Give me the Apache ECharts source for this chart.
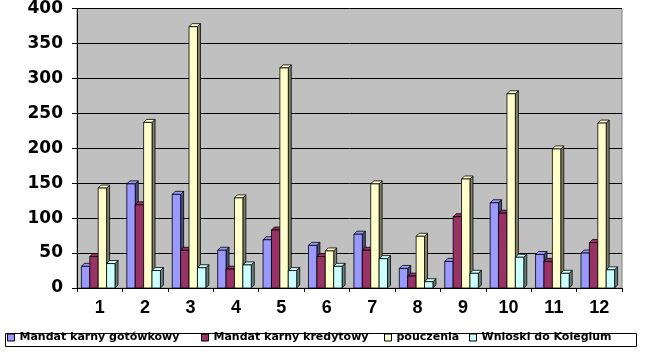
<!DOCTYPE html>
<html>
<head>
<meta charset="utf-8">
<script src="https://cdn.jsdelivr.net/npm/echarts@6/dist/echarts.min.js"></script>
<style>html,body{margin:0;padding:0;background:#fff}#c{width:655px;height:360px}</style>
</head>
<body>
<div id="c"></div>
<script>
const categories = ['1','2','3','4','5','6','7','8','9','10','11','12'];
const seriesNames = ['Mandat karny gotówkowy','Mandat karny kredytowy','pouczenia','Wnioski do Kolegium'];
const gotowkowy = [31,149,134,54,69,61,77,28,38,122,48,50];
const kredytowy = [45,119,54,27,83,45,54,17,102,107,38,65];
const pouczenia = [143,237,374,129,315,53,149,74,156,278,199,236];
const wnioski = [35,25,29,33,25,31,42,9,21,44,21,26];
const yTicks = {min:0, max:400, interval:50};

const seriesData = [gotowkowy, kredytowy, pouczenia, wnioski];
const frontColors = ['#9999FF','#993366','#FFFFCC','#CCFFFF'];
const sideColors = ['#4D4D80','#4D1A33','#808066','#668080'];
const legendLefts = [7, 201, 384, 469];

const BW = 8.4, D = 3;
function makeRender(s){
  return function(params, api){
    const cat = api.value(0), val = api.value(1);
    const p0 = api.coord([cat, 0]);
    const p1 = api.coord([cat, val]);
    const x = p0[0] - 2*BW - 1.5 + s*BW;
    const yt = p1[1], yb = p0[1];
    const st = {stroke:'#000', lineWidth:0.8};
    return {type:'group', children:[
      {type:'polygon', shape:{points:[[x+BW,yt],[x+BW+D,yt-D],[x+BW+D,yb-D],[x+BW,yb]]}, style:Object.assign({fill:sideColors[s]}, st)},
      {type:'polygon', shape:{points:[[x,yt],[x+D,yt-D],[x+BW+D,yt-D],[x+BW,yt]]}, style:Object.assign({fill:frontColors[s]}, st)},
      {type:'rect', shape:{x:x, y:yt, width:BW, height:yb-yt}, style:Object.assign({fill:frontColors[s]}, st)}
    ]};
  };
}

const series = seriesData.map((arr, s) => ({
  type:'custom',
  name: seriesNames[s],
  renderItem: makeRender(s),
  itemStyle:{color: frontColors[s]},
  encode:{x:0, y:1},
  data: arr.map((v,i)=>[i,v]),
  z: 2 + s
}));

const legends = seriesNames.map((n, s) => ({
  data:[n], left: legendLefts[s], top: 331, padding: 0,
  itemWidth: 7, itemHeight: 7, icon: 'rect',
  itemStyle:{borderColor:'#000', borderWidth:1},
  textStyle:{fontFamily:'DejaVu Sans', fontWeight:'bold', fontSize:11, color:'#000', lineHeight:13},
  selectedMode:false
}));

const chart = echarts.init(document.getElementById('c'), null, {renderer:'canvas'});
chart.setOption({
  animation:false,
  backgroundColor:'#fff',
  grid:{left:77, right:33, top:5, bottom:72, show:true, backgroundColor:'#C0C0C0', borderColor:'#808080', borderWidth:1},
  legend: legends,
  graphic:[{type:'rect', left:3, top:331, shape:{width:631, height:13}, style:{fill:'none', stroke:'#000', lineWidth:1}, z:-1}],
  xAxis:{type:'category', data:categories,
    axisLine:{lineStyle:{color:'#000', width:1}},
    axisTick:{show:true, length:4, lineStyle:{color:'#000'}},
    axisLabel:{fontFamily:'Liberation Sans', fontWeight:'bold', fontSize:18, color:'#000', margin:11}
  },
  yAxis:{type:'value', min:yTicks.min, max:yTicks.max, interval:yTicks.interval,
    axisLine:{show:true, lineStyle:{color:'#000', width:1}},
    axisTick:{show:true, length:5, lineStyle:{color:'#000'}},
    splitLine:{lineStyle:{color:'#000', width:1}},
    axisLabel:{fontFamily:'DejaVu Sans', fontWeight:'bold', fontSize:17, color:'#000', margin:14}
  },
  series: series
});
</script>
</body>
</html>
